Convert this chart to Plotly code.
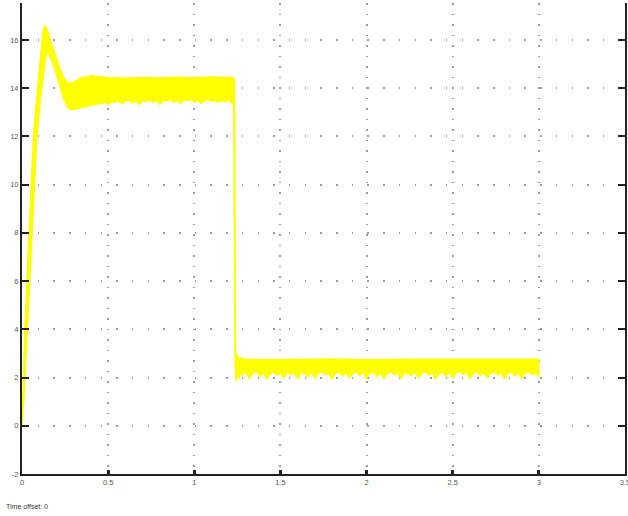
import numpy as np
import plotly.graph_objects as go

# ---- signal envelope (time in s, value) ----
# upper edge of the noisy response band
rise_up_t = [0.0, 0.016, 0.04, 0.068, 0.09, 0.107, 0.122, 0.135, 0.15, 0.174, 0.2, 0.222,
             0.25, 0.27, 0.3, 0.338, 0.4, 0.51, 0.6, 0.7, 0.8, 0.9, 1.0, 1.1, 1.2, 1.226]
rise_up_v = [0.0, 4.0, 8.0, 12.26, 14.0, 15.45, 16.4, 16.6, 16.35, 15.8, 15.2, 14.76,
             14.35, 14.2, 14.25, 14.42, 14.52, 14.44, 14.42, 14.45, 14.43, 14.46, 14.44, 14.47, 14.45, 14.46]
drop_up_t = [1.234, 1.24, 1.245, 1.26, 1.3, 1.5, 1.8, 2.0, 2.3, 2.6, 2.9, 3.0]
drop_up_v = [14.3, 3.1, 2.95, 2.82, 2.76, 2.74, 2.77, 2.74, 2.76, 2.75, 2.77, 2.76]

# lower edge of the band
rise_lo_t = [0.0, 0.012, 0.033, 0.06, 0.087, 0.107, 0.125, 0.141, 0.15, 0.18, 0.21,
             0.24, 0.27, 0.29, 0.32, 0.38, 0.44]
rise_lo_v = [0.0, 1.2, 4.0, 8.0, 12.0, 13.5, 14.6, 15.4, 15.5, 15.0, 14.3,
             13.55, 13.15, 13.1, 13.15, 13.25, 13.35]
high_lo_start, high_lo_step = 0.46, 0.02
high_lo_v = [13.36, 13.42, 13.3, 13.45, 13.4, 13.48, 13.34, 13.46, 13.5, 13.38,
             13.47, 13.31, 13.49, 13.44, 13.52, 13.4, 13.49, 13.33, 13.5, 13.46,
             13.53, 13.41, 13.49, 13.36, 13.51, 13.47, 13.54, 13.42, 13.5, 13.35,
             13.49, 13.53, 13.45, 13.51, 13.39, 13.49, 13.44, 13.5, 13.37]
drop_lo_t = [1.228, 1.236, 1.242, 1.25, 1.26, 1.27]
drop_lo_v = [13.3, 2.6, 1.85, 2.15, 1.95, 2.2]
low_lo_start, low_lo_step = 1.28, 0.02
low_lo_v = [2.1, 2.22, 1.95, 2.18, 2.25, 2.05, 2.2, 1.92, 2.15, 2.23,
            2.08, 2.2, 1.98, 2.24, 2.12, 2.19, 1.94, 2.21, 2.16, 2.05,
            2.22, 1.97, 2.18, 2.25, 2.1, 2.2, 1.93, 2.17, 2.23, 2.06,
            2.21, 1.99, 2.15, 2.24, 2.09, 2.2, 1.95, 2.18, 2.22, 2.04,
            2.2, 1.96, 2.16, 2.25, 2.11, 2.19, 1.93, 2.21, 2.17, 2.07,
            2.23, 1.98, 2.18, 2.24, 2.1, 2.2, 1.94, 2.16, 2.22, 2.05,
            2.21, 1.97, 2.19, 2.25, 2.12, 2.2, 1.95, 2.17, 2.23, 2.08,
            2.2, 1.99, 2.16, 2.24, 2.1, 2.21, 1.94, 2.18, 2.22, 2.06,
            2.2, 1.97, 2.17, 2.25, 2.11, 2.19, 2.02]

x_ticks = [0, 0.5, 1, 1.5, 2, 2.5, 3, 3.5]
x_labels = ["0", "0.5", "1", "1.5", "2", "2.5", "3", "3.5"]
y_ticks = [-2, 0, 2, 4, 6, 8, 10, 12, 14, 16]
y_labels = ["-2", "0", "2", "4", "6", "8", "10", "12", "14", "16"]

# ---- assemble the band outline ----
high_lo_t = list(np.round(high_lo_start + high_lo_step * np.arange(len(high_lo_v)), 4))
low_lo_t = list(np.round(low_lo_start + low_lo_step * np.arange(len(low_lo_v)), 4))

up_t = rise_up_t + drop_up_t
up_v = rise_up_v + drop_up_v
lo_t = rise_lo_t + high_lo_t + drop_lo_t + low_lo_t
lo_v = rise_lo_v + high_lo_v + drop_lo_v + low_lo_v

band_x = up_t + lo_t[::-1]
band_y = up_v + lo_v[::-1]

fig = go.Figure()
fig.add_trace(go.Scatter(
    x=band_x, y=band_y, mode="lines", fill="toself",
    fillcolor="#FFFF00", line=dict(color="#FFFF00", width=1.2),
    hoverinfo="skip", showlegend=False,
))

axis_font = dict(family="Liberation Sans, Arial, sans-serif", size=7.5, color="#555555")

fig.update_xaxes(
    range=[0, 3.5], tickvals=x_ticks, ticktext=x_labels,
    showline=True, linecolor="#222222", linewidth=2,
    ticks="inside", ticklen=4, tickwidth=2.5, tickcolor="#222222",
    showgrid=True, gridcolor="#9c9c9c", gridwidth=1.5, griddash="1.5px,9px",
    zeroline=False, tickfont=axis_font, ticklabeloverflow="allow", automargin=False,
)
fig.update_yaxes(
    range=[-2, 17.53], tickvals=y_ticks, ticktext=y_labels,
    showline=True, linecolor="#222222", linewidth=2, mirror="ticks",
    ticks="inside", ticklen=7, tickwidth=1.8, tickcolor="#222222",
    showgrid=True, gridcolor="#9c9c9c", gridwidth=1.5, griddash="1.5px,14.2px",
    zeroline=False, tickfont=axis_font, automargin=False,
)

fig.add_annotation(
    text="Time offset: 0", xref="paper", yref="paper",
    x=-0.03, y=-0.07, xanchor="left", yanchor="middle", showarrow=False,
    font=dict(family="Liberation Sans, Arial, sans-serif", size=7, color="#333333"),
)

fig.update_layout(
    width=628, height=516,
    margin=dict(l=22, r=3, t=3, b=42),
    plot_bgcolor="white", paper_bgcolor="white",
)

fig.write_html("out.html")
